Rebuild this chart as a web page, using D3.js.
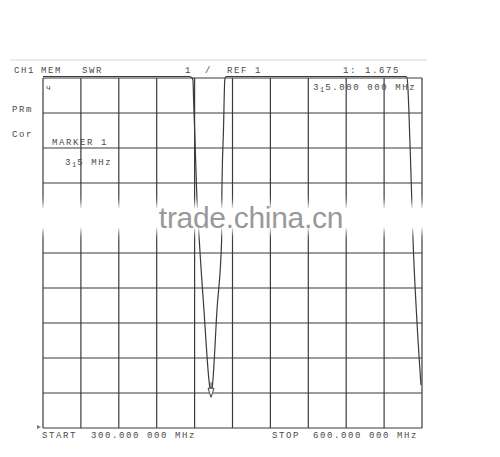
<!DOCTYPE html>
<html lang="en">
    <head>
        <meta charset="utf-8">
        <title>SWR sweep</title>
        <script type="text/javascript" src="https://d3js.org/d3.v7.min.js"></script>
        <style type="text/css">
            body {
                margin: 0;
                background: #ffffff;
            }
            svg {
                font-family: 'Liberation Mono', 'DejaVu Sans Mono', monospace;
                font-size: 9px;
                letter-spacing: 1.6px;
            }
            .lbl { fill: #4a4a4a; }
        </style>
    </head>
    <body>
        <script type="text/javascript">

            // sweep data (MHz, SWR)
            const freqMHz = [300, 410, 416, 418.1, 418.7, 419.2, 420.3, 421.7, 423.7, 427.4, 431.6, 433.0,
                             434.3, 437.7, 441.4, 441.6, 442.9, 443.9, 444.9, 500, 587.7, 588.6, 589.6,
                             591.9, 592.9, 595.8, 599.2];
            const swr = [8.03, 8.03, 8.03, 8.0, 7.96, 7.56, 6.76, 5.70, 4.76, 3.36, 1.90, 1.675,
                         1.90, 3.36, 4.76, 5.70, 7.0, 7.96, 8.03, 8.03, 8.03, 7.9, 7.36,
                         5.56, 4.76, 3.22, 1.86];

            const markerFreq = 433.0, markerSwr = 1.675;

            // graticule: 10 x 10 divisions
            const xTicks = [300, 330, 360, 390, 420, 450, 480, 510, 540, 570, 600];
            const yTicks = [1, 1.7, 2.4, 3.1, 3.8, 4.5, 5.2, 5.9, 6.6, 7.3, 8];

            // screen annotations
            const headerLeft = ["CH1", "MEM", "SWR"];
            const headerMid = ["1", "/", "REF 1"];
            const markerReadout = ["1:", "1.675"];
            const sideLabels = ["PRm", "Cor"];
            const markerLabel = "MARKER 1";
            const startLabel = ["START", "300.000 000 MHz"];
            const stopLabel = ["STOP", "600.000 000 MHz"];

            const W = 500, H = 457;
            const svg = d3.select("body").append("svg")
                .attr("width", W)
                .attr("height", H);

            const defs = svg.append("defs");
            defs.append("filter").attr("id", "blur")
                .attr("x", "-10%").attr("y", "-60%").attr("width", "120%").attr("height", "220%")
                .append("feGaussianBlur").attr("stdDeviation", 4);

            const xScale = d3.scaleLinear().domain([300, 600]).range([43, 422]);
            const yScale = d3.scaleLinear().domain([1, 8]).range([428, 78]);

            // thin rule above the header
            svg.append("line")
                .attr("x1", 10).attr("x2", 427)
                .attr("y1", 60).attr("y2", 60)
                .attr("stroke", "#d8d8d8").attr("stroke-width", 1);

            // grid
            const grid = svg.append("g").attr("stroke", "#3a3a3a").attr("stroke-width", 1.2);
            grid.selectAll("line.v")
                .data(xTicks)
                .join("line")
                .attr("class", "v")
                .attr("x1", d => xScale(d)).attr("x2", d => xScale(d))
                .attr("y1", yScale(8)).attr("y2", yScale(1));
            grid.selectAll("line.h")
                .data(yTicks)
                .join("line")
                .attr("class", "h")
                .attr("x1", xScale(300)).attr("x2", xScale(600))
                .attr("y1", d => yScale(d)).attr("y2", d => yScale(d));

            // trace
            const line = d3.line()
                .x((d, i) => xScale(freqMHz[i]))
                .y(d => yScale(d))
                .curve(d3.curveMonotoneX);
            svg.append("path")
                .datum(swr)
                .attr("d", line)
                .attr("fill", "none")
                .attr("stroke", "#3a3a3a")
                .attr("stroke-width", 1.2);

            // marker arrow
            const mx = xScale(markerFreq), my = yScale(markerSwr);
            svg.append("path")
                .attr("d", `M${mx},${my - 12}L${mx},${my - 6}M${mx - 3},${my - 6}L${mx + 3},${my - 6}L${mx},${my + 3}Z`)
                .attr("fill", "#fff")
                .attr("stroke", "#444")
                .attr("stroke-width", 1);

            // tiny reference mark at bottom left, glyph at top left
            svg.append("path")
                .attr("d", `M${xScale(300) - 6},${yScale(1) - 3}L${xScale(300) - 2},${yScale(1) - 1}L${xScale(300) - 6},${yScale(1) + 1}Z`)
                .attr("fill", "#777");
            svg.append("text").attr("class", "lbl")
                .attr("x", 46).attr("y", 90)
                .style("font-size", "8px")
                .text("ч");

            // header
            const txt = (x, y, s) => svg.append("text").attr("class", "lbl").attr("x", x).attr("y", y).text(s);
            txt(14, 73, headerLeft[0]);
            txt(41, 73, headerLeft[1]);
            txt(82, 73, headerLeft[2]);
            txt(185, 73, headerMid[0]);
            txt(205, 73, headerMid[1]);
            txt(227, 73, headerMid[2]);
            txt(343, 73, markerReadout[0]);
            txt(365, 73, markerReadout[1]);

            // marker frequency readout with the odd small "1"
            const f1 = svg.append("text").attr("class", "lbl").attr("x", 313).attr("y", 90);
            f1.append("tspan").text("3");
            f1.append("tspan").attr("dy", 2).style("font-size", "7px").style("letter-spacing", "1px").text("1");
            f1.append("tspan").attr("dy", -2).text("5.000 000 MHz");

            txt(12, 112, sideLabels[0]);
            txt(12, 137, sideLabels[1]);
            txt(52, 145, markerLabel);

            const f2 = svg.append("text").attr("class", "lbl").attr("x", 65).attr("y", 165);
            f2.append("tspan").text("3");
            f2.append("tspan").attr("dy", 2).style("font-size", "7px").style("letter-spacing", "1px").text("1");
            f2.append("tspan").attr("dy", -2).text("5 MHz");

            txt(42, 438, startLabel[0]);
            txt(91, 438, startLabel[1]);
            txt(272, 438, stopLabel[0]);
            txt(313, 438, stopLabel[1]);

            // watermark band
            svg.append("rect")
                .attr("x", 0).attr("y", 204)
                .attr("width", 445).attr("height", 28)
                .attr("fill", "#fff")
                .attr("filter", "url(#blur)");
            svg.append("rect")
                .attr("x", 0).attr("y", 208)
                .attr("width", 445).attr("height", 20)
                .attr("fill", "#fff")
                .attr("opacity", 0.9);
            svg.append("text")
                .attr("x", 251).attr("y", 228)
                .attr("text-anchor", "middle")
                .style("font-family", "'Liberation Sans', Arial, sans-serif")
                .style("font-size", "30px")
                .style("letter-spacing", "-0.3px")
                .attr("fill", "#999")
                .text("trade.china.cn");

        </script>
    </body>
</html>
